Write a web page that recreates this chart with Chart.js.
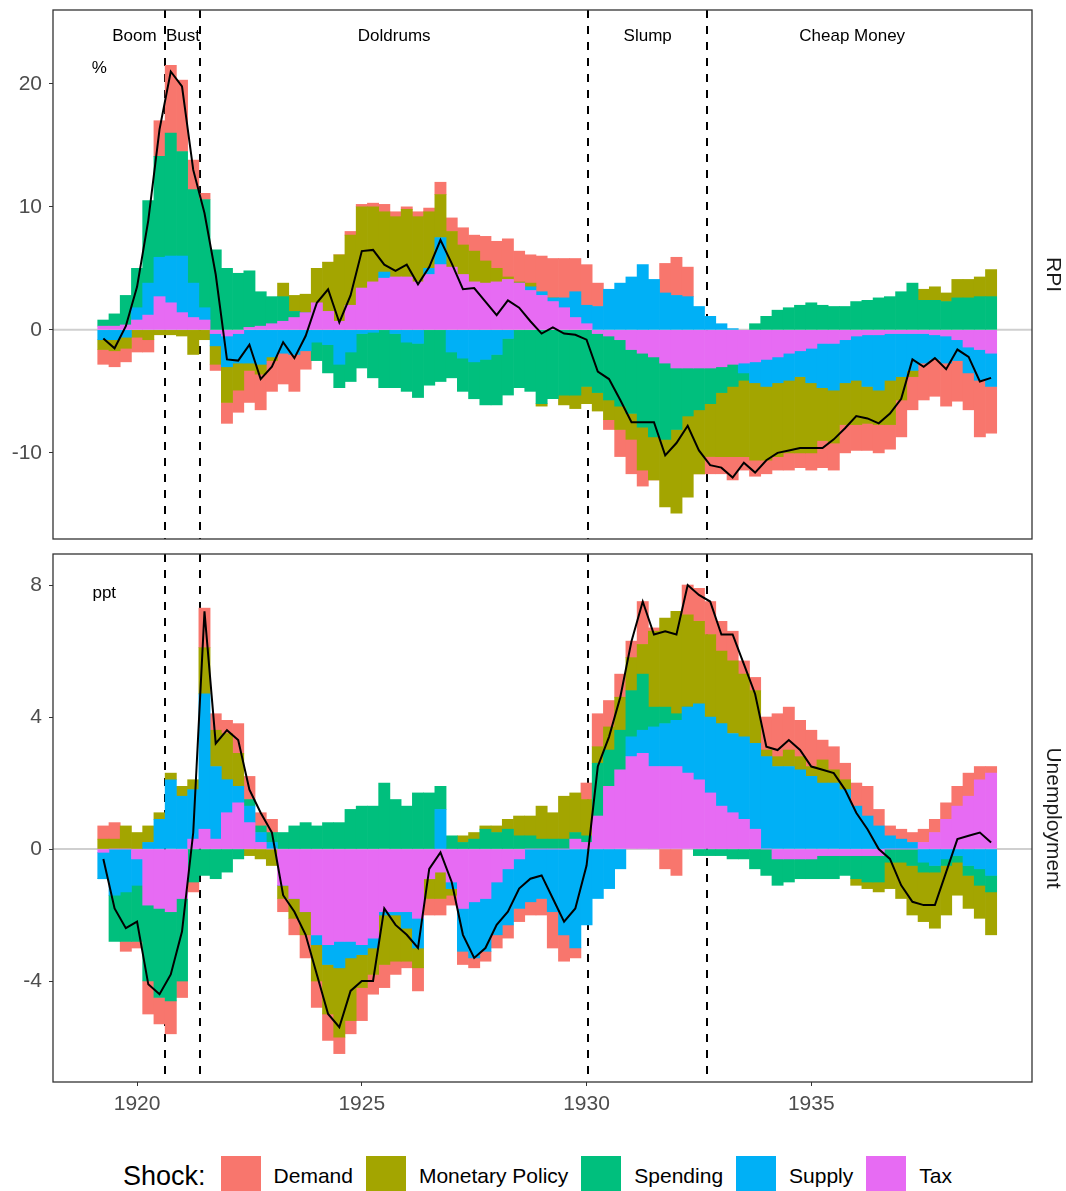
<!DOCTYPE html>
<html lang="en">
<head>
<meta charset="UTF-8">
<title>Historical decomposition: RPI and Unemployment</title>
<script src="https://cdn.jsdelivr.net/npm/chart.js"></script>
<style>
  body { margin: 0; background: #fff; }
  #wrap { position: relative; width: 1066px; height: 1191px; overflow: hidden;
          font-family: "Liberation Sans", Arial, sans-serif; }
  #wrap canvas { position: absolute; left: 0; }
  #legend { position: absolute; top: 1156px; left: 123px; height: 40px;
            display: flex; align-items: center; white-space: nowrap; color: #000; }
  #legend .ttl { font-size: 27px; margin-right: 15px; }
  #legend .key { width: 40px; height: 40px; margin-right: 13px; }
  #legend .lab { font-size: 21px; margin-right: 13px; }
</style>
</head>
<body>
<div id="wrap">
  <canvas id="rpiChart" width="1066" height="569" style="top:-10px"></canvas>
  <canvas id="unChart" width="1066" height="586" style="top:534px"></canvas>
  <div id="legend"></div>
</div>
<script>
// quarterly dates (decimal years)
const dates = [
  1919.25, 1919.5, 1919.75, 1920.0, 1920.25, 1920.5, 1920.75, 1921.0, 1921.25, 1921.5,
  1921.75, 1922.0, 1922.25, 1922.5, 1922.75, 1923.0, 1923.25, 1923.5, 1923.75, 1924.0,
  1924.25, 1924.5, 1924.75, 1925.0, 1925.25, 1925.5, 1925.75, 1926.0, 1926.25, 1926.5,
  1926.75, 1927.0, 1927.25, 1927.5, 1927.75, 1928.0, 1928.25, 1928.5, 1928.75, 1929.0,
  1929.25, 1929.5, 1929.75, 1930.0, 1930.25, 1930.5, 1930.75, 1931.0, 1931.25, 1931.5,
  1931.75, 1932.0, 1932.25, 1932.5, 1932.75, 1933.0, 1933.25, 1933.5, 1933.75, 1934.0,
  1934.25, 1934.5, 1934.75, 1935.0, 1935.25, 1935.5, 1935.75, 1936.0, 1936.25, 1936.5,
  1936.75, 1937.0, 1937.25, 1937.5, 1937.75, 1938.0, 1938.25, 1938.5, 1938.75, 1939.0
];

const shocks = ['Demand', 'Monetary Policy', 'Spending', 'Supply', 'Tax'];
const shockColors = ['#F8766D', '#A3A500', '#00BF7D', '#00B0F6', '#E76BF3'];

// RPI contributions (%)
const rpiDemand = [
  -1.2,-1.3,-1.1,-1.2,-1.0,2.9,5.5,5.8,2.4,0.5,
  -0.5,-1.7,-1.8,-2.6,-2.9,-2.5,-2.5,-3.0,-1.5,0,
  0,0,0.3,0.2,0.3,0.6,0.4,0.2,0.4,0.3,
  1.0,1.1,1.4,1.3,2.0,2.2,3.1,2.5,2.3,2.9,
  3.2,3.2,2.7,3.3,1.9,-0.8,-2.2,-2.8,-1.3,0,
  2.4,3.1,2.4,0,-1.4,-1.4,-1.9,-1.1,-1.3,-1.1,
  -1.1,-1.4,-1.2,-1.4,-2.2,-2.2,-2.3,-2.1,-2.2,-2.3,
  -2.0,-3.0,-2.7,-3.0,-3.0,-3.5,-3.3,-3.0,-4.6,-3.8
];
const rpiMonetary = [
  -0.8,-0.9,-0.9,-0.6,-0.8,-0.4,-0.4,-0.5,-2.0,-0.8,
  -1.5,-2.9,-2.2,-0.6,-0.8,-0.3,1.1,1.3,1.5,2.8,
  4.0,5.4,5.7,6.6,6.1,4.9,4.9,5.5,5.3,4.6,
  3.5,2.9,2.4,2.5,1.8,1.1,0.2,0.1,0.3,-0.2,
  0,-0.8,-1.1,-1.4,-1.5,-1.6,-1.9,-2.1,-3.5,-3.5,
  -5.5,-6.8,-6.6,-5.2,-4.3,-5.2,-5.7,-6.2,-6.3,-6.0,
  -6.0,-5.9,-6.2,-5.7,-4.3,-4.3,-3.4,-3.6,-3.0,-2.8,
  -3.6,-1.9,-0.5,0.9,1.1,0.7,1.5,1.5,1.6,2.2
];
const rpiSpending = [
  0.5,1.0,2.4,3.2,6.7,8.2,10.0,8.5,7.6,8.8,
  6.5,5.0,4.6,4.6,2.8,2.2,2.0,0.5,0,-1.5,
  -2.3,-1.9,-2.4,-2.8,-3.7,-4.7,-4.4,-4.0,-4.4,-4.5,
  -4.2,-2.1,-2.7,-3.0,-3.7,-4.1,-4.6,-4.7,-5.0,-6.0,
  -5.6,-5.3,-5.3,-4.6,-4.8,-5.2,-5.4,-5.2,-6.0,-6.5,
  -6.2,-5.0,-3.9,-3.4,-2.9,-2.1,-1.8,-0.6,0.5,1.1,
  1.6,1.8,2.0,2.2,2.0,1.9,1.9,2.3,2.4,2.6,
  2.7,3.1,3.8,2.4,2.4,2.3,2.6,2.6,2.7,2.7
];
const rpiSupply = [
  -0.8,-0.8,-0.6,1.0,2.6,3.2,3.8,4.6,2.8,1.0,
  -1.0,-2.5,-2.4,-2.7,-2.8,-2.2,-1.9,-2.0,-1.7,-1.0,
  -1.2,-2.8,-1.8,-0.3,-0.2,0.5,-0.3,-1.0,-1.1,0.5,
  2.2,-1.8,-2.3,-2.6,-2.4,-2.0,-0.7,0,0.3,0.3,
  0.3,0.8,2.1,1.5,1.9,3.3,3.8,4.3,5.3,4.1,
  3.0,2.8,2.7,1.9,1.1,0.5,0.1,-0.8,-1.7,-2.2,
  -2.1,-2.2,-2.1,-2.8,-3.6,-3.8,-3.5,-3.6,-4.2,-4.5,
  -3.8,-3.5,-3.0,-2.4,-2.0,-2.2,-1.7,-2.1,-2.5,-2.7
];
const rpiTax = [
  0.3,0.3,0.4,0.8,1.2,2.7,2.2,1.4,1.0,0.8,
  -0.3,-0.5,-0.3,0.2,0.3,0.5,0.7,1.0,1.4,2.2,
  1.5,0.7,2.0,3.4,3.9,4.2,4.3,4.3,3.9,4.5,
  5.3,5.1,4.5,3.9,3.8,3.9,4.1,3.8,3.2,2.8,
  2.3,1.8,1.0,0.5,-0.3,-0.5,-0.8,-1.6,-1.9,-2.2,
  -2.7,-3.1,-3.1,-3.1,-3.1,-3.0,-2.8,-2.7,-2.6,-2.4,
  -2.2,-1.9,-1.7,-1.5,-1.1,-1.1,-0.8,-0.5,-0.4,-0.4,
  -0.3,-0.3,-0.3,-0.3,-0.4,-0.5,-0.8,-1.4,-1.6,-1.9
];
const rpiTotal = [
  -0.7,-1.5,0.3,3.5,8.9,16.3,21.0,19.8,13.0,9.5,
  4.5,-2.4,-2.5,-1.2,-4.0,-3.0,-1.0,-2.3,-0.5,2.2,
  3.3,0.6,2.8,6.4,6.5,5.3,4.8,5.3,3.7,5.1,
  7.3,5.4,3.3,3.4,2.3,1.2,2.4,1.8,0.7,-0.3,
  0.2,-0.3,-0.4,-0.8,-3.4,-4.0,-5.7,-7.5,-7.5,-7.5,
  -10.2,-9.2,-7.8,-9.8,-11.0,-11.2,-12.0,-10.8,-11.6,-10.6,
  -10.0,-9.8,-9.6,-9.6,-9.6,-8.9,-8.0,-7.0,-7.2,-7.6,
  -6.8,-5.6,-2.4,-3.0,-2.3,-3.2,-1.6,-2.2,-4.2,-3.9
];

// Unemployment contributions (ppt)
const unDemand = [
  0.4,0.5,-0.3,-0.2,-1.0,-0.8,-1.0,-0.5,-0.3,1.2,
  0.5,0.4,0.9,0.7,0.4,0.4,-0.4,-0.5,-0.7,-0.8,
  -0.8,-0.5,-0.4,-1.0,-0.6,-0.7,-0.4,-0.2,-0.7,-0.5,
  -0.5,-0.3,-0.4,-0.3,-0.3,-0.4,-0.4,-0.4,-0.4,-0.5,
  -1.1,-0.8,-0.3,0.5,1.0,0.8,0.7,0.5,1.3,0.1,
  -0.6,-0.8,0.9,1.0,1.0,0.9,0.9,0.4,0.4,1.0,
  1.3,1.3,1.1,1.1,0.6,0.7,0.5,0.7,0.9,0.5,
  0.3,0.3,0.3,0.4,0.4,0.5,0.6,0.7,0.4,0.2
];
const unMonetary = [
  0.3,0.3,0.7,0.5,0.5,0.2,0.2,0.3,0.3,1.4,
  1.1,1.4,1.0,-0.2,-0.3,-0.5,-0.4,-0.6,-0.7,-1.1,
  -1.5,-2.1,-1.9,-1.0,-0.8,-1.5,-1.4,-1.0,-0.6,-0.6,
  -0.8,-0.2,0.2,0.2,0.1,0.2,0.3,0.6,0.6,1.0,
  0.8,1.3,1.2,1.1,0.5,0.7,1.0,1.0,0.9,2.3,
  2.7,3.1,2.8,2.5,2.5,2.2,2.2,1.9,1.6,0.2,
  0.3,0.5,0.4,0.3,0.7,0.4,0.3,-0.2,-0.2,-0.3,
  -0.8,-1.1,-1.5,-1.5,-1.7,-1.5,-1.0,-1.0,-1.0,-1.3
];
const unSpending = [
  0,-1.4,-1.5,-1.7,-2.3,-2.7,-2.7,-2.5,-1.0,-0.8,
  -0.9,-0.7,-0.3,0.2,0.2,0.3,0.5,0.7,0.8,0.7,
  0.8,0.8,1.2,1.3,1.3,2.0,1.5,1.3,1.7,1.7,
  0.7,0.4,0.2,0.3,0.6,0.5,0.6,0.4,0.4,0.3,
  0.3,0.3,0.2,0.2,1.6,1.1,1.2,1.4,1.7,0.6,
  0.5,0.2,0,-0.2,-0.2,-0.2,-0.3,-0.3,-0.6,-0.8,
  -0.8,-0.7,-0.6,-0.6,-0.7,-0.7,-0.6,-0.7,-0.8,-0.8,
  -0.4,-0.4,-0.5,-0.3,-0.2,-0.2,-0.2,-0.3,-0.5,-0.5
];
const unSupply = [
  -0.8,-1.4,-1.3,-0.8,0.2,0.9,2.1,1.6,1.5,4.1,
  2.2,1.0,0.5,0.5,0.3,0.2,0,0,0,-0.3,
  -0.6,-0.8,-0.5,-0.3,-0.3,-0.1,-0.1,-0.5,-0.9,0,
  1.2,-0.2,-1.3,-1.7,-1.6,-1.6,-1.7,-1.5,-1.6,-1.5,
  -1.9,-2.6,-3.0,-2.3,-1.5,-1.2,-0.6,0.6,0.7,1.2,
  1.3,1.4,2.0,2.3,2.3,2.5,2.4,2.5,2.6,2.8,
  2.5,2.5,2.4,2.2,2.0,2.0,1.8,1.3,1.0,0.7,
  0.4,0.3,0.2,-0.4,-0.5,-0.3,-0.2,-0.5,-0.6,-0.8
];
const unTax = [
  -0.1,0,0,-0.3,-1.7,-1.8,-1.9,-1.5,0.3,0.6,
  0.3,1.1,1.4,0.8,0.2,0,-1.1,-1.5,-1.9,-2.6,
  -2.9,-2.8,-2.8,-2.9,-2.7,-1.9,-1.9,-1.9,-2.1,-0.9,
  -0.7,-1.0,-1.8,-1.6,-1.5,-1.0,-0.6,-0.3,0,0,
  0,0,0.3,0.2,1.0,1.9,2.4,2.8,2.9,2.5,
  2.5,2.5,2.3,2.1,1.7,1.3,1.1,0.9,0.6,0,
  -0.3,-0.3,-0.3,-0.3,-0.2,-0.2,-0.2,-0.2,-0.2,-0.2,
  0,0,0,0.2,0.5,0.9,1.3,1.6,2.1,2.3
];
const unTotal = [
  -0.3,-1.8,-2.4,-2.2,-4.1,-4.4,-3.8,-2.5,0.5,7.2,
  3.2,3.6,3.3,1.8,1.1,0.5,-1.4,-1.9,-2.6,-3.8,
  -5.0,-5.4,-4.3,-4.0,-4.0,-1.8,-2.3,-2.6,-3.0,-0.6,
  -0.1,-1.0,-2.6,-3.3,-3.0,-2.3,-1.9,-1.2,-0.9,-0.8,
  -1.5,-2.2,-1.8,-0.5,2.5,3.4,4.6,6.3,7.5,6.5,
  6.6,6.5,8.0,7.7,7.5,6.5,6.5,5.6,4.7,3.1,
  3.0,3.3,3.0,2.5,2.4,2.3,1.8,1.1,0.6,0,
  -0.3,-1.1,-1.6,-1.7,-1.7,-0.7,0.3,0.4,0.5,0.2
];

const xTicks = [1920, 1925, 1930, 1935];
const rpiTicks = [-10, 0, 10, 20];
const unTicks = [-4, 0, 4, 8];

// episode boundaries and labels
const eventDates = [1920.63, 1921.4, 1930.04, 1932.69];
const periodNames = ['Boom', 'Bust', 'Doldrums', 'Slump', 'Cheap Money'];
const periodMid = [1919.94, 1921.02, 1925.72, 1931.36, 1935.91];

const FONT = '"Liberation Sans", Arial, sans-serif';
const XMIN = 1918.13, XMAX = 1939.91;

function toXY(vals) {
  return vals.map((v, i) => ({ x: dates[i], y: v }));
}

function buildDatasets(series, total) {
  // stacking goes from zero outward: Tax nearest the axis, Demand outermost
  const sets = [];
  for (let k = shocks.length - 1; k >= 0; k--) {
    sets.push({
      type: 'bar',
      label: shocks[k],
      data: toXY(series[k]),
      backgroundColor: shockColors[k],
      borderWidth: 0,
      barPercentage: 1,
      categoryPercentage: 1,
      stack: 'shock',
      order: 1
    });
  }
  sets.push({
    type: 'line',
    label: 'Total',
    data: toXY(total),
    borderColor: '#000',
    borderWidth: 2,
    pointRadius: 0,
    tension: 0,
    fill: false,
    stack: 'line',
    order: 0
  });
  return sets;
}

function decor(strip, unit, showPeriods) {
  return {
    id: 'decor',
    beforeDatasetsDraw(chart) {
      const { ctx, chartArea: a, scales: { x, y } } = chart;
      ctx.save();
      const y0 = y.getPixelForValue(0);
      ctx.strokeStyle = '#cfcfcf';
      ctx.lineWidth = 2;
      ctx.beginPath();
      ctx.moveTo(a.left, y0);
      ctx.lineTo(a.right, y0);
      ctx.stroke();
      ctx.strokeStyle = '#000';
      ctx.lineWidth = 2;
      ctx.setLineDash([8, 8]);
      eventDates.forEach(d => {
        const px = Math.round(x.getPixelForValue(d));
        ctx.beginPath();
        ctx.moveTo(px, a.top);
        ctx.lineTo(px, a.bottom);
        ctx.stroke();
      });
      ctx.restore();
    },
    afterDraw(chart) {
      const { ctx, chartArea: a, scales: { x, y } } = chart;
      ctx.save();
      ctx.strokeStyle = '#333';
      ctx.lineWidth = 1.3;
      ctx.strokeRect(a.left, a.top, a.right - a.left, a.bottom - a.top);

      ctx.fillStyle = '#000';
      ctx.textAlign = 'center';
      ctx.textBaseline = 'middle';
      ctx.font = '17px ' + FONT;
      if (showPeriods) {
        periodNames.forEach((p, i) => {
          ctx.fillText(p, x.getPixelForValue(periodMid[i]), y.getPixelForValue(23.85));
        });
      }
      ctx.fillText(unit.text, x.getPixelForValue(unit.x), y.getPixelForValue(unit.y));

      ctx.fillStyle = '#1a1a1a';
      ctx.font = '21px ' + FONT;
      ctx.translate(a.right + 21, (a.top + a.bottom) / 2);
      ctx.rotate(Math.PI / 2);
      ctx.fillText(strip, 0, 0);
      ctx.restore();
    }
  };
}

function makeChart(id, series, total, opt) {
  return new Chart(document.getElementById(id), {
    data: { datasets: buildDatasets(series, total) },
    options: {
      responsive: false,
      animation: false,
      devicePixelRatio: 1,
      layout: { padding: opt.padding },
      plugins: { legend: { display: false }, tooltip: { enabled: false } },
      scales: {
        x: {
          type: 'linear',
          min: XMIN,
          max: XMAX,
          stacked: true,
          offset: false,
          display: opt.showX,
          afterBuildTicks: s => { s.ticks = xTicks.map(v => ({ value: v })); },
          afterFit: s => { if (opt.showX) s.height = 38; },
          ticks: {
            autoSkip: false,
            maxRotation: 0,
            padding: 6,
            color: '#4d4d4d',
            font: { family: FONT, size: 21 },
            callback: v => String(v)
          },
          grid: { drawOnChartArea: false, drawTicks: true, tickLength: 4, color: '#333', offset: false },
          border: { display: false }
        },
        y: {
          type: 'linear',
          min: opt.ymin,
          max: opt.ymax,
          stacked: true,
          afterBuildTicks: s => { s.ticks = opt.yTicks.map(v => ({ value: v })); },
          afterFit: s => { s.width = 53; },
          ticks: {
            padding: 7,
            color: '#4d4d4d',
            font: { family: FONT, size: 21 },
            callback: v => String(v)
          },
          grid: { drawOnChartArea: false, drawTicks: true, tickLength: 4, color: '#333' },
          border: { display: false }
        }
      }
    },
    plugins: [decor(opt.strip, opt.unit, opt.periods)]
  });
}

// canvases are offset so the 20px label margin Chart.js keeps puts each panel in place
makeChart('rpiChart',
  [rpiDemand, rpiMonetary, rpiSpending, rpiSupply, rpiTax], rpiTotal,
  { padding: { left: 0, right: 34, top: 20, bottom: 20 }, showX: false,
    ymin: -17.0, ymax: 26.0, yTicks: rpiTicks, strip: 'RPI',
    unit: { text: '%', x: 1919.16, y: 21.3 }, periods: true });

makeChart('unChart',
  [unDemand, unMonetary, unSpending, unSupply, unTax], unTotal,
  { padding: { left: 0, right: 34, top: 20, bottom: 0 }, showX: true,
    ymin: -7.06, ymax: 8.94, yTicks: unTicks, strip: 'Unemployment',
    unit: { text: 'ppt', x: 1919.27, y: 7.75 }, periods: false });

// legend
document.getElementById('legend').innerHTML =
  '<span class="ttl">Shock:</span>' +
  shocks.map((s, i) =>
    '<span class="key" style="background:' + shockColors[i] + '"></span>' +
    '<span class="lab">' + s + '</span>').join('');
</script>
</body>
</html>
